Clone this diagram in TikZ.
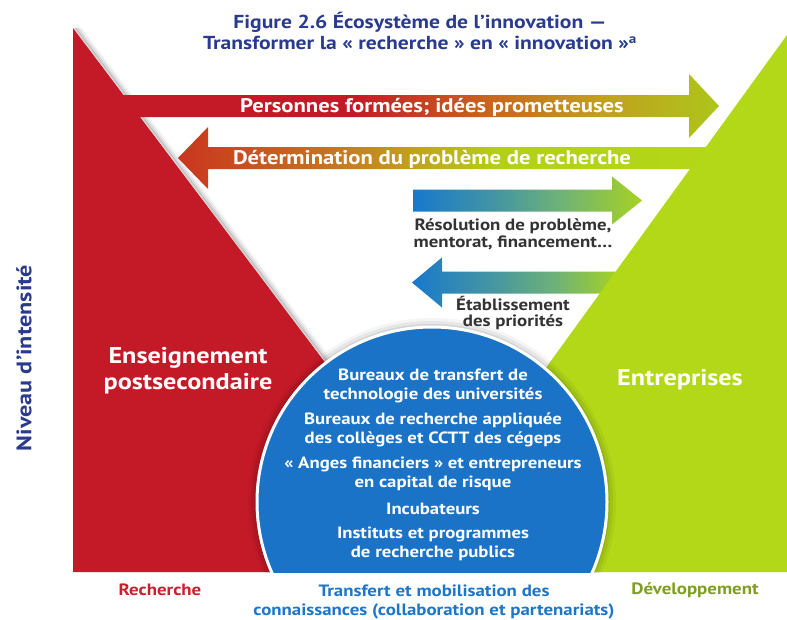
\documentclass[tikz,border=0pt]{standalone}
\usepackage{fontspec}
\setmainfont{PT Sans}[FakeStretch=1.15]
\definecolor{rougeR}{HTML}{C41A27}
\definecolor{vertE}{HTML}{B3D817}
\definecolor{bleuC}{HTML}{1B73C8}
\definecolor{marine}{HTML}{2A3B8F}
\definecolor{texteG}{HTML}{333333}
\definecolor{rougeT}{HTML}{C8202E}
\definecolor{olive}{HTML}{7F9E1E}
\definecolor{bleuT}{HTML}{1C76C9}
\definecolor{orA}{HTML}{C8611E}
\definecolor{orB}{HTML}{C29F1E}
\definecolor{vertA}{HTML}{ADC61B}
\definecolor{orC}{HTML}{C9351F}
\definecolor{orD}{HTML}{C8731F}
\definecolor{orE}{HTML}{C1A51E}
\definecolor{vertB}{HTML}{B3D017}
\definecolor{bleuF}{HTML}{1878CC}
\definecolor{sarcelle}{HTML}{4697A0}
\definecolor{vertC}{HTML}{6FB277}
\definecolor{vertD}{HTML}{A6D222}
\pgfdeclarehorizontalshading{degradeA}{100bp}{color(0bp)=(rougeR); color(25bp)=(rougeR); color(45bp)=(rougeR); color(55.5bp)=(orA); color(65.2bp)=(orB); color(75bp)=(vertA); color(100bp)=(vertA)}
\pgfdeclarehorizontalshading{degradeB}{100bp}{color(0bp)=(orC); color(25bp)=(orC); color(38.8bp)=(orD); color(46.9bp)=(orE); color(54.2bp)=(vertB); color(75bp)=(vertE); color(100bp)=(vertE)}
\pgfdeclarehorizontalshading{degradeC}{100bp}{color(0bp)=(bleuF); color(25bp)=(bleuF); color(44bp)=(sarcelle); color(57bp)=(vertC); color(75bp)=(vertD); color(100bp)=(vertD)}
\pgfdeclarehorizontalshading{degradeD}{100bp}{color(0bp)=(bleuF); color(25bp)=(bleuF); color(45bp)=(sarcelle); color(60bp)=(vertC); color(75bp)=(vertD); color(100bp)=(vertD)}
\begin{document}
\begin{tikzpicture}[x=1pt,y=-1pt,
  blanc/.style={text=white, font=\bfseries\fontsize{19.7}{22}\selectfont, align=center, inner sep=0pt},
  bulle/.style={text=white, font=\bfseries\fontsize{16.3}{19}\selectfont, align=center, inner sep=0pt},
  gris/.style={text=texteG, font=\bfseries\fontsize{16.4}{17}\selectfont, align=center, inner sep=0pt},
  legende/.style={font=\bfseries\fontsize{16.4}{18.5}\selectfont, align=center, inner sep=0pt}]
\useasboundingbox (0,0) rectangle (787,619);
\fill[white] (0,0) rectangle (787,619);
% ombre le long du triangle rouge
\foreach \d/\o in {2/0.20,4/0.12,6/0.07,8/0.03}
  \draw[line width=2pt, black, opacity=\o] (73+\d,28) -- (483+\d,572);
% fleches
\shade[shading=degradeA] (110,95) -- (689,95) -- (689,74) -- (719,106) -- (689,138) -- (689,117) -- (110,117) -- cycle;
\shade[shading=degradeB] (730,147) -- (208,147) -- (208,127) -- (178,158) -- (208,189) -- (208,169) -- (730,169) -- cycle;
\shade[shading=degradeC] (413,189.5) -- (612,189.5) -- (612,176.5) -- (642,200.5) -- (612,224.5) -- (612,211.5) -- (413,211.5) -- cycle;
\shade[shading=degradeD] (618,271.5) -- (442,271.5) -- (442,257.5) -- (412,282.5) -- (442,307.5) -- (442,293.5) -- (618,293.5) -- cycle;
% triangles
\fill[rougeR] (73,28) -- (483,572) -- (73,572) -- cycle;
\fill[vertE] (787,35) -- (787,572) -- (398,572) -- cycle;
% cercle
\begin{scope}
  \clip (0,0) rectangle (787,572);
  \foreach \r/\o in {184/0.04,181/0.06,178/0.08}
    \fill[black, opacity=\o] (432,502) circle (\r);
  \filldraw[fill=bleuC, draw=white, line width=3pt] (432,502) circle (175);
\end{scope}
% textes
\node[font=\bfseries\fontsize{18.8}{20.5}\selectfont, text=marine, align=center, inner sep=0pt] (titre) at (420,31) {Figure 2.6 Écosystème de l’innovation —\\Transformer la « recherche » en « innovation »\textsuperscript{a}};
\node[blanc] (personnes) at (432,107) {Personnes formées; idées prometteuses};
\node[blanc] (determination) at (432,159) {Détermination du problème de recherche};
\node[gris] (resolution) at (513,234) {Résolution de problème,\\mentorat, financement…};
\node[gris, font=\bfseries\fontsize{16.4}{15.5}\selectfont] (priorites) at (513,313) {Établissement\\des priorités};
\node[blanc, font=\bfseries\fontsize{22.8}{26.3}\selectfont] (enseignement) at (188,371) {Enseignement\\postsecondaire};
\node[blanc, font=\bfseries\fontsize{22.8}{26}\selectfont] (entreprises) at (680,380) {Entreprises};
\node[bulle] (bureauxT) at (433,386) {Bureaux de transfert de\\technologie des universités};
\node[bulle] (bureauxR) at (433,430) {Bureaux de recherche appliquée\\des collèges et CCTT des cégeps};
\node[bulle] (anges) at (433,474) {« Anges financiers » et entrepreneurs\\en capital de risque};
\node[bulle] (incubateurs) at (433,508.5) {Incubateurs};
\node[bulle] (instituts) at (433,543.5) {Instituts et programmes\\de recherche publics};
\node[rotate=90, font=\bfseries\fontsize{21}{22}\selectfont, text=marine, inner sep=0pt] (niveau) at (24,358) {Niveau d’intensité};
\node[legende, text=rougeT] (recherche) at (160,590) {Recherche};
\node[legende, text=bleuT] (transfert) at (434,602) {Transfert et mobilisation des\\connaissances (collaboration et partenariats)};
\node[legende, text=olive] (developpement) at (695,590) {Développement};
\end{tikzpicture}
\end{document}
